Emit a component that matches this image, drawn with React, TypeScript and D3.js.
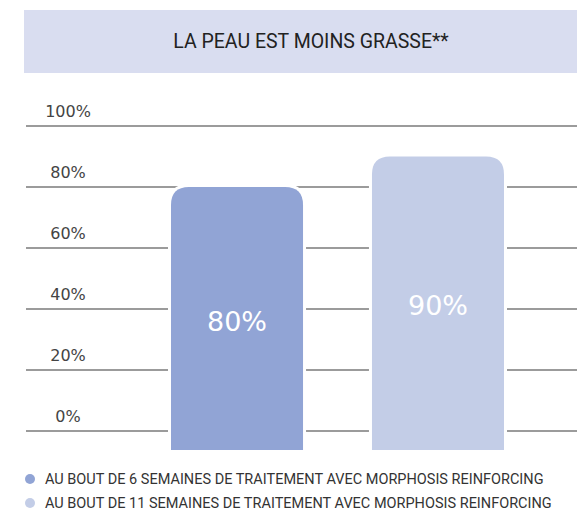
import React, { useRef, useEffect } from "react";
import * as d3 from "d3";

const categories = ["6 semaines", "11 semaines"];
const values = [80, 90];
const valueLabels = ["80%", "90%"];
const barColors = ["#91a4d5", "#c3cde7"];
const yTicks = [0, 20, 40, 60, 80, 100];
const legendLabels = [
  "AU BOUT DE 6 SEMAINES DE TRAITEMENT AVEC MORPHOSIS REINFORCING",
  "AU BOUT DE 11 SEMAINES DE TRAITEMENT AVEC MORPHOSIS REINFORCING",
];
const title = "LA PEAU EST MOINS GRASSE**";

const App = () => {
  const svgRef = useRef(null);

  useEffect(() => {
    const svg = d3.select(svgRef.current);
    svg.selectAll("*").remove();

    const width = 577;
    const height = 512;

    const yScale = d3.scaleLinear().domain([0, 100]).range([431, 126]);
    const xScale = d3
      .scaleBand()
      .domain(categories)
      .range([171, 504])
      .paddingInner(0.343)
      .paddingOuter(0);

    svg.attr("width", width).attr("height", height);

    // title band
    svg
      .append("rect")
      .attr("x", 24)
      .attr("y", 10)
      .attr("width", width - 24)
      .attr("height", 63)
      .attr("fill", "#d9ddf0");

    svg
      .append("text")
      .attr("x", 311)
      .attr("y", 48)
      .attr("text-anchor", "middle")
      .attr("font-family", "Roboto")
      .attr("font-size", 19.5)
      .attr("fill", "#222")
      .text(title);

    // grid lines + tick labels
    const grid = svg.append("g");
    grid
      .selectAll("line")
      .data(yTicks)
      .enter()
      .append("line")
      .attr("x1", 26)
      .attr("x2", width)
      .attr("y1", d => yScale(d))
      .attr("y2", d => yScale(d))
      .attr("stroke", "#7a7a7a")
      .attr("stroke-width", 1.5);

    grid
      .selectAll("text")
      .data(yTicks)
      .enter()
      .append("text")
      .attr("x", 68)
      .attr("y", d => yScale(d) - 9)
      .attr("text-anchor", "middle")
      .attr("font-family", "DejaVu Sans")
      .attr("font-size", 16)
      .attr("fill", "#444")
      .text(d => d + "%");

    // bars with rounded tops
    const r = 18;
    const bottom = yScale(0) + 19;
    const barPath = (i) => {
      const x0 = xScale(categories[i]);
      const x1 = x0 + xScale.bandwidth();
      const y0 = yScale(values[i]);
      return `M${x0},${bottom}V${y0 + r}Q${x0},${y0} ${x0 + r},${y0}H${x1 - r}Q${x1},${y0} ${x1},${y0 + r}V${bottom}Z`;
    };

    const bars = svg.append("g");
    bars
      .selectAll("path")
      .data(values)
      .enter()
      .append("path")
      .attr("d", (d, i) => barPath(i))
      .attr("fill", (d, i) => barColors[i])
      .attr("stroke", "#fff")
      .attr("stroke-width", 6)
      .attr("paint-order", "stroke");

    bars
      .selectAll("text")
      .data(values)
      .enter()
      .append("text")
      .attr("x", (d, i) => xScale(categories[i]) + xScale.bandwidth() / 2)
      .attr("y", d => (yScale(d) + bottom) / 2 + 12)
      .attr("text-anchor", "middle")
      .attr("font-family", "DejaVu Sans")
      .attr("font-size", 27)
      .attr("fill", "#fff")
      .text((d, i) => valueLabels[i]);

    // legend
    const legend = svg.append("g");
    legendLabels.forEach((label, i) => {
      const y = 479 + i * 24;
      legend
        .append("circle")
        .attr("cx", 30)
        .attr("cy", y)
        .attr("r", 5)
        .attr("fill", barColors[i]);
      legend
        .append("text")
        .attr("x", 45)
        .attr("y", y + 5)
        .attr("font-family", "Roboto")
        .attr("font-size", 14.5)
        .attr("fill", "#333")
        .text(label);
    });
  }, []);

  return (
    <svg
      ref={svgRef}
      style={{ position: "absolute", left: 0, top: 0, display: "block" }}
    ></svg>
  );
};

export default App;
